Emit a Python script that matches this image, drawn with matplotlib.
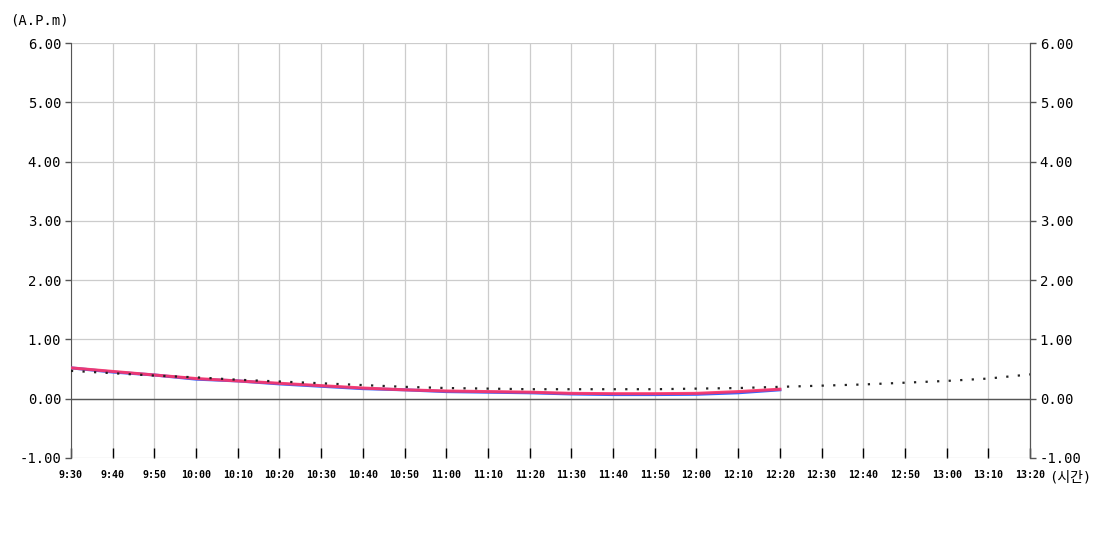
import numpy as np
import matplotlib
matplotlib.use("Agg")
import matplotlib.pyplot as plt

plt.rcParams['font.family'] = ['DejaVu Sans Mono', 'Noto Sans CJK KR']

times = ["9:30", "9:40", "9:50", "10:00", "10:10", "10:20", "10:30", "10:40",
         "10:50", "11:00", "11:10", "11:20", "11:30", "11:40", "11:50", "12:00",
         "12:10", "12:20", "12:30", "12:40", "12:50", "13:00", "13:10", "13:20"]

red_vals = [0.52, 0.46, 0.40, 0.34, 0.30, 0.26, 0.22, 0.18, 0.15, 0.13, 0.12,
            0.11, 0.09, 0.085, 0.085, 0.09, 0.12, 0.16]
blue_vals = [0.52, 0.45, 0.40, 0.33, 0.30, 0.25, 0.21, 0.17, 0.15, 0.12, 0.11,
             0.10, 0.08, 0.07, 0.07, 0.075, 0.10, 0.15]
trend_vals = [0.47, 0.43, 0.39, 0.36, 0.32, 0.29, 0.26, 0.23, 0.20, 0.18, 0.17,
              0.16, 0.16, 0.16, 0.16, 0.17, 0.18, 0.20, 0.22, 0.24, 0.27, 0.30,
              0.34, 0.41]

yticks = [-1, 0, 1, 2, 3, 4, 5, 6]

fig = plt.figure(figsize=(11, 5.5), dpi=100)
ax = fig.add_axes([0.0645, 0.1673, 0.8719, 0.7545])

x = np.arange(len(times))
ax.plot(x[:len(blue_vals)], blue_vals, color='#3366ff', lw=2.2, zorder=3)
ax.plot(x[:len(red_vals)], red_vals, color='#ff3366', lw=2.2, alpha=0.9, zorder=4)
ax.plot(x, trend_vals, color='#222222', lw=1.6, linestyle=(0, (1, 4.2)), zorder=5)

ax.axhline(0, color='#555555', lw=1, zorder=2)

ax.set_xlim(0, len(times) - 1)
ax.set_ylim(-1, 6)
ax.set_xticks(x)
ax.set_xticklabels(times, fontsize=7.2, fontweight='bold')
ax.set_yticks(yticks)
ax.set_yticklabels(["%.2f" % v for v in yticks], fontsize=10)
ax.grid(True, color='#cccccc', lw=0.9)
ax.set_axisbelow(True)

ax.tick_params(axis='x', direction='in', length=7, width=1, color='black', pad=9)
ax.tick_params(axis='y', direction='out', length=4, width=1, color='#555555', pad=3)

for s in ['top', 'bottom']:
    ax.spines[s].set_visible(False)
for s in ['left', 'right']:
    ax.spines[s].set_color('#555555')

ax2 = ax.twinx()
ax2.set_ylim(-1, 6)
ax2.set_yticks(yticks)
ax2.set_yticklabels(["%.2f" % v for v in yticks], fontsize=10)
ax2.tick_params(axis='y', direction='out', length=4, width=1, color='#555555', pad=3)
for s in ['top', 'bottom', 'left']:
    ax2.spines[s].set_visible(False)
ax2.spines['right'].set_color('#555555')

fig.text(0.009, 0.962, "(A.P.m)", fontsize=10, ha='left', va='center')
fig.text(0.954, 0.132, "(시간)", fontsize=10, ha='left', va='center')

fig.savefig("out.png", dpi=100)
